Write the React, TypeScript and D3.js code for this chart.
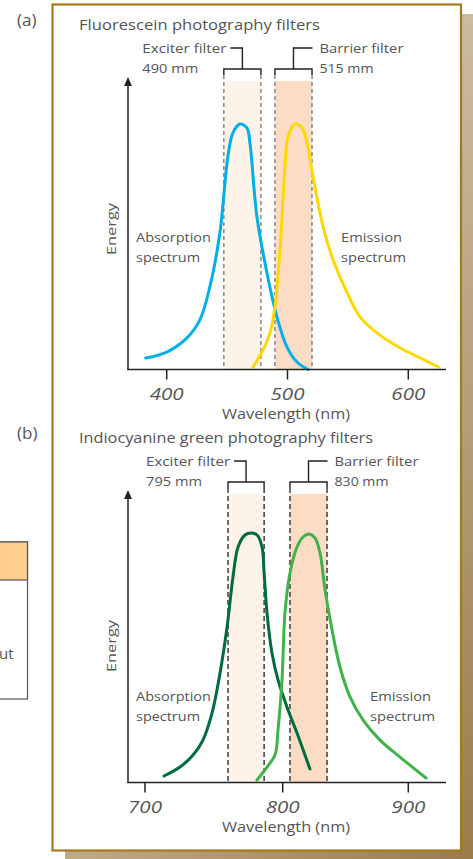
import React from "react";
import * as d3 from "d3";

// ---------- DATA ----------
const panelLabels = ["(a)", "(b)"];
const panelTitles = ["Fluorescein photography filters", "Indiocyanine green photography filters"];
const exciterLabels = [["Exciter filter", "490 mm"], ["Exciter filter", "795 mm"]];
const barrierLabels = [["Barrier filter", "515 mm"], ["Barrier filter", "830 mm"]];
const ticksA = [400, 500, 600];
const ticksB = [700, 800, 900];
const exciterBandA = [447.3, 478.0];
const barrierBandA = [489.6, 520.3];
const exciterBandB = [760.3, 786.5];
const barrierBandB = [805.8, 835.3];

// [wavelength nm, relative energy]
const absorptionA: [number, number][] = [
  [382.6, 4.6], [400, 7.0], [416.6, 12.6], [427.4, 19.8], [435.7, 33.1], [444, 54.7],
  [450.6, 85.2], [454.8, 94.8], [460.6, 98.4], [466.4, 96.8], [468.9, 90.8], [474.7, 61.1],
  [483, 38.7], [491.3, 21.0], [499.6, 9.0], [507.9, 3.0], [517, 0],
];
const emissionA: [number, number][] = [
  [471.4, 1.0], [479.7, 7.8], [485.5, 14.6], [489.6, 25.1], [493.8, 47.9], [497.9, 81.2],
  [500.4, 93.2], [506.2, 98.4], [512, 96.8], [516.2, 90.8], [521.2, 77.2], [529.5, 57.1],
  [537.8, 43.9], [549.4, 30.7], [560.2, 21.0], [574.3, 14.6], [593.4, 8.6], [610, 4.6], [624.9, 1.0],
];
const absorptionB: [number, number][] = [
  [713.8, 2.6], [725.4, 6.2], [734.9, 11.0], [742.1, 17.0], [748.7, 27.9], [754.5, 43.9],
  [759.6, 62.3], [763.9, 82.4], [767.6, 94.4], [772.6, 99.2], [777, 100], [781.4, 99.2],
  [785, 94.4], [786.5, 84.0], [788.6, 68.0], [792.2, 51.9], [796.6, 41.1], [803.4, 30.3],
  [811.4, 19.8], [821.7, 5.4],
];
const emissionB: [number, number][] = [
  [781.3, 1.0], [788.6, 6.2], [794.4, 11.0], [796.6, 21.0], [799.5, 41.1], [801.8, 68.0],
  [805.8, 84.0], [811.4, 94.4], [816.2, 98.4], [821, 99.6], [825.7, 98.0], [829.7, 92.0],
  [833.7, 77.2], [839.3, 61.1], [845.6, 46.3], [853.6, 34.3], [863.9, 25.1], [877.5, 17.0],
  [893.4, 10.2], [914.1, 1.8],
];

const FONT = "'Open Sans', 'DejaVu Sans', sans-serif";
const TXT = "#555";

type PanelProps = {
  idx: number;
  top: number; // offset
  xDomain: number[];
  xRange: number[];
  ticks: number[];
  exBand: number[];
  baBand: number[];
  abs: [number, number][];
  emi: [number, number][];
  absColor: string;
  emiColor: string;
  dashColor: string;
  dashArray: string;
  emiLabelX: number;
  labelY: number;
  energyY: number;
};

function Panel(p: PanelProps) {
  const t = p.top;
  const x = d3.scaleLinear().domain(p.xDomain).range(p.xRange);
  const axisY = 369.5 + t;
  const y = d3.scaleLinear().domain([0, 100]).range([axisY, axisY - 249.5]);
  const line = d3
    .line<[number, number]>()
    .x((d) => x(d[0]))
    .y((d) => y(d[1]))
    .curve(d3.curveCatmullRom.alpha(0.5));
  const bandTop = 81 + t;
  const brTop = 48 + t;
  const brMid = 69 + t;
  const brEnd = 75 + t;
  const axisX = 128;
  const arrowTip = 77 + t;
  const bands = [
    { b: p.exBand, fill: "#fdf3e8", lead: "left" },
    { b: p.baBand, fill: "#fcdcc5", lead: "right" },
  ];
  const exStem = (x(p.exBand[0]) + x(p.exBand[1])) / 2;
  const baStem = (x(p.baBand[0]) + x(p.baBand[1])) / 2;
  const exX = exStem - 12 - 4 - 84;
  const baX = baStem + 19 + 7;
  return (
    <g>
      <text x={17} y={26 + t} fontFamily={FONT} fontSize={17} fill={TXT}>{panelLabels[p.idx]}</text>
      <text x={79} y={30 + t} fontFamily={FONT} fontSize={14.5} fill={TXT}
        textLength={p.idx === 0 ? 241 : 294} lengthAdjust="spacingAndGlyphs">{panelTitles[p.idx]}</text>
      {bands.map((bd, i) => {
        const x0 = x(bd.b[0]);
        const x1 = x(bd.b[1]);
        const stem = (x0 + x1) / 2;
        return (
          <g key={i}>
            <rect x={x0} y={bandTop} width={x1 - x0} height={axisY - bandTop} fill={bd.fill} />
            <line x1={x0} x2={x0} y1={brEnd} y2={axisY} stroke={p.dashColor} strokeWidth={1.3} strokeDasharray={p.dashArray} />
            <line x1={x1} x2={x1} y1={brEnd} y2={axisY} stroke={p.dashColor} strokeWidth={1.3} strokeDasharray={p.dashArray} />
            <path
              d={`M${x0},${brEnd}V${brMid}H${x1}V${brEnd}M${stem},${brMid}V${brTop}H${bd.lead === "left" ? stem - 12 : stem + 19}`}
              fill="none" stroke="#222" strokeWidth={1.4} />
          </g>
        );
      })}
      <g fontFamily={FONT} fontSize={12.5} fill={TXT}>
        <text x={exX} y={53 + t} textLength={84} lengthAdjust="spacingAndGlyphs">{exciterLabels[p.idx][0]}</text>
        <text x={exX} y={73 + t} textLength={56} lengthAdjust="spacingAndGlyphs">{exciterLabels[p.idx][1]}</text>
        <text x={baX} y={53 + t} textLength={84} lengthAdjust="spacingAndGlyphs">{barrierLabels[p.idx][0]}</text>
        <text x={baX} y={73 + t} textLength={54} lengthAdjust="spacingAndGlyphs">{barrierLabels[p.idx][1]}</text>
      </g>
      {/* curves */}
      <path d={line(p.abs) || ""} fill="none" stroke={p.absColor} strokeWidth={3} strokeLinecap="round" strokeLinejoin="round" />
      <path d={line(p.emi) || ""} fill="none" stroke={p.emiColor} strokeWidth={3} strokeLinecap="round" strokeLinejoin="round" />
      {/* axes */}
      <line x1={axisX} x2={axisX} y1={arrowTip + 6} y2={axisY} stroke="#222" strokeWidth={1.5} />
      <path d={`M${axisX},${arrowTip}L${axisX - 4},${arrowTip + 9}L${axisX + 4},${arrowTip + 9}Z`} fill="#222" />
      <line x1={axisX - 0.75} x2={446} y1={axisY} y2={axisY} stroke="#222" strokeWidth={1.5} />
      {p.ticks.map((tk) => (
        <g key={tk}>
          <line x1={x(tk)} x2={x(tk)} y1={axisY} y2={axisY + 10} stroke="#222" strokeWidth={1.5} />
          <text x={x(tk)} y={axisY + 30.5} textAnchor="middle" fontFamily={FONT} fontSize={16}
            fontStyle="italic" fill={TXT} textLength={34} lengthAdjust="spacingAndGlyphs">{tk}</text>
        </g>
      ))}
      <text x={286} y={axisY + 49} textAnchor="middle" fontFamily={FONT} fontSize={14} fill={TXT}
        textLength={128} lengthAdjust="spacingAndGlyphs">Wavelength (nm)</text>
      <text transform={`translate(116,${p.energyY + t}) rotate(-90)`} textAnchor="middle" fontFamily={FONT}
        fontSize={13.5} fill={TXT} textLength={52} lengthAdjust="spacingAndGlyphs">Energy</text>
      <g fontFamily={FONT} fontSize={13} fill={TXT}>
        <text x={136} y={p.labelY + t} textLength={75} lengthAdjust="spacingAndGlyphs">Absorption</text>
        <text x={136} y={p.labelY + 20 + t} textLength={64} lengthAdjust="spacingAndGlyphs">spectrum</text>
        <text x={p.emiLabelX} y={p.labelY + t} textLength={61} lengthAdjust="spacingAndGlyphs">Emission</text>
        <text x={p.emiLabelX} y={p.labelY + 20 + t} textLength={65} lengthAdjust="spacingAndGlyphs">spectrum</text>
      </g>
    </g>
  );
}

export default function App() {
  return (
    <svg width={473} height={859} style={{ position: "absolute", left: 0, top: 0, background: "#fff" }}>
      <defs>
        <linearGradient id="shadowR" x1="0" y1="0" x2="0" y2="1">
          <stop offset="0" stopColor="#cdbba0" />
          <stop offset="1" stopColor="#9a7c4c" />
        </linearGradient>
        <linearGradient id="shadowB" x1="0" y1="0" x2="1" y2="0">
          <stop offset="0" stopColor="#c2aa86" />
          <stop offset="1" stopColor="#9a7c4c" />
        </linearGradient>
      </defs>
      {/* partial box at left */}
      <rect x={-2} y={542} width={29.5} height={157} fill="#fff" stroke="#555" strokeWidth={1.2} />
      <rect x={-2} y={542} width={29.5} height={38} fill="#fecf8e" stroke="#555" strokeWidth={1.2} />
      <text x={-1} y={659} fontFamily={FONT} fontSize={15} fill={TXT}>ut</text>
      {/* shadow */}
      <rect x={462} y={14} width={11} height={845} fill="url(#shadowR)" />
      <rect x={65} y={851} width={408} height={8} fill="url(#shadowB)" />
      {/* frame */}
      <rect x={52.5} y={4.5} width={408.5} height={846} fill="#fff" stroke="#a47b1c" strokeWidth={2.2} />
      <Panel idx={0} top={0} xDomain={[400, 600]} xRange={[166.7, 408.3]} ticks={ticksA}
        exBand={exciterBandA} baBand={barrierBandA} abs={absorptionA} emi={emissionA}
        absColor="#00aee8" emiColor="#ffd800" dashColor="#777" dashArray="4,3" emiLabelX={341}
        labelY={242} energyY={229} />
      <Panel idx={1} top={413} xDomain={[700, 800, 900]} xRange={[145, 282.7, 408.3]} ticks={ticksB}
        exBand={exciterBandB} baBand={barrierBandB} abs={absorptionB} emi={emissionB}
        absColor="#006b3c" emiColor="#3fb34a" dashColor="#222" dashArray="5,3" emiLabelX={370}
        labelY={288} energyY={233} />
    </svg>
  );
}
